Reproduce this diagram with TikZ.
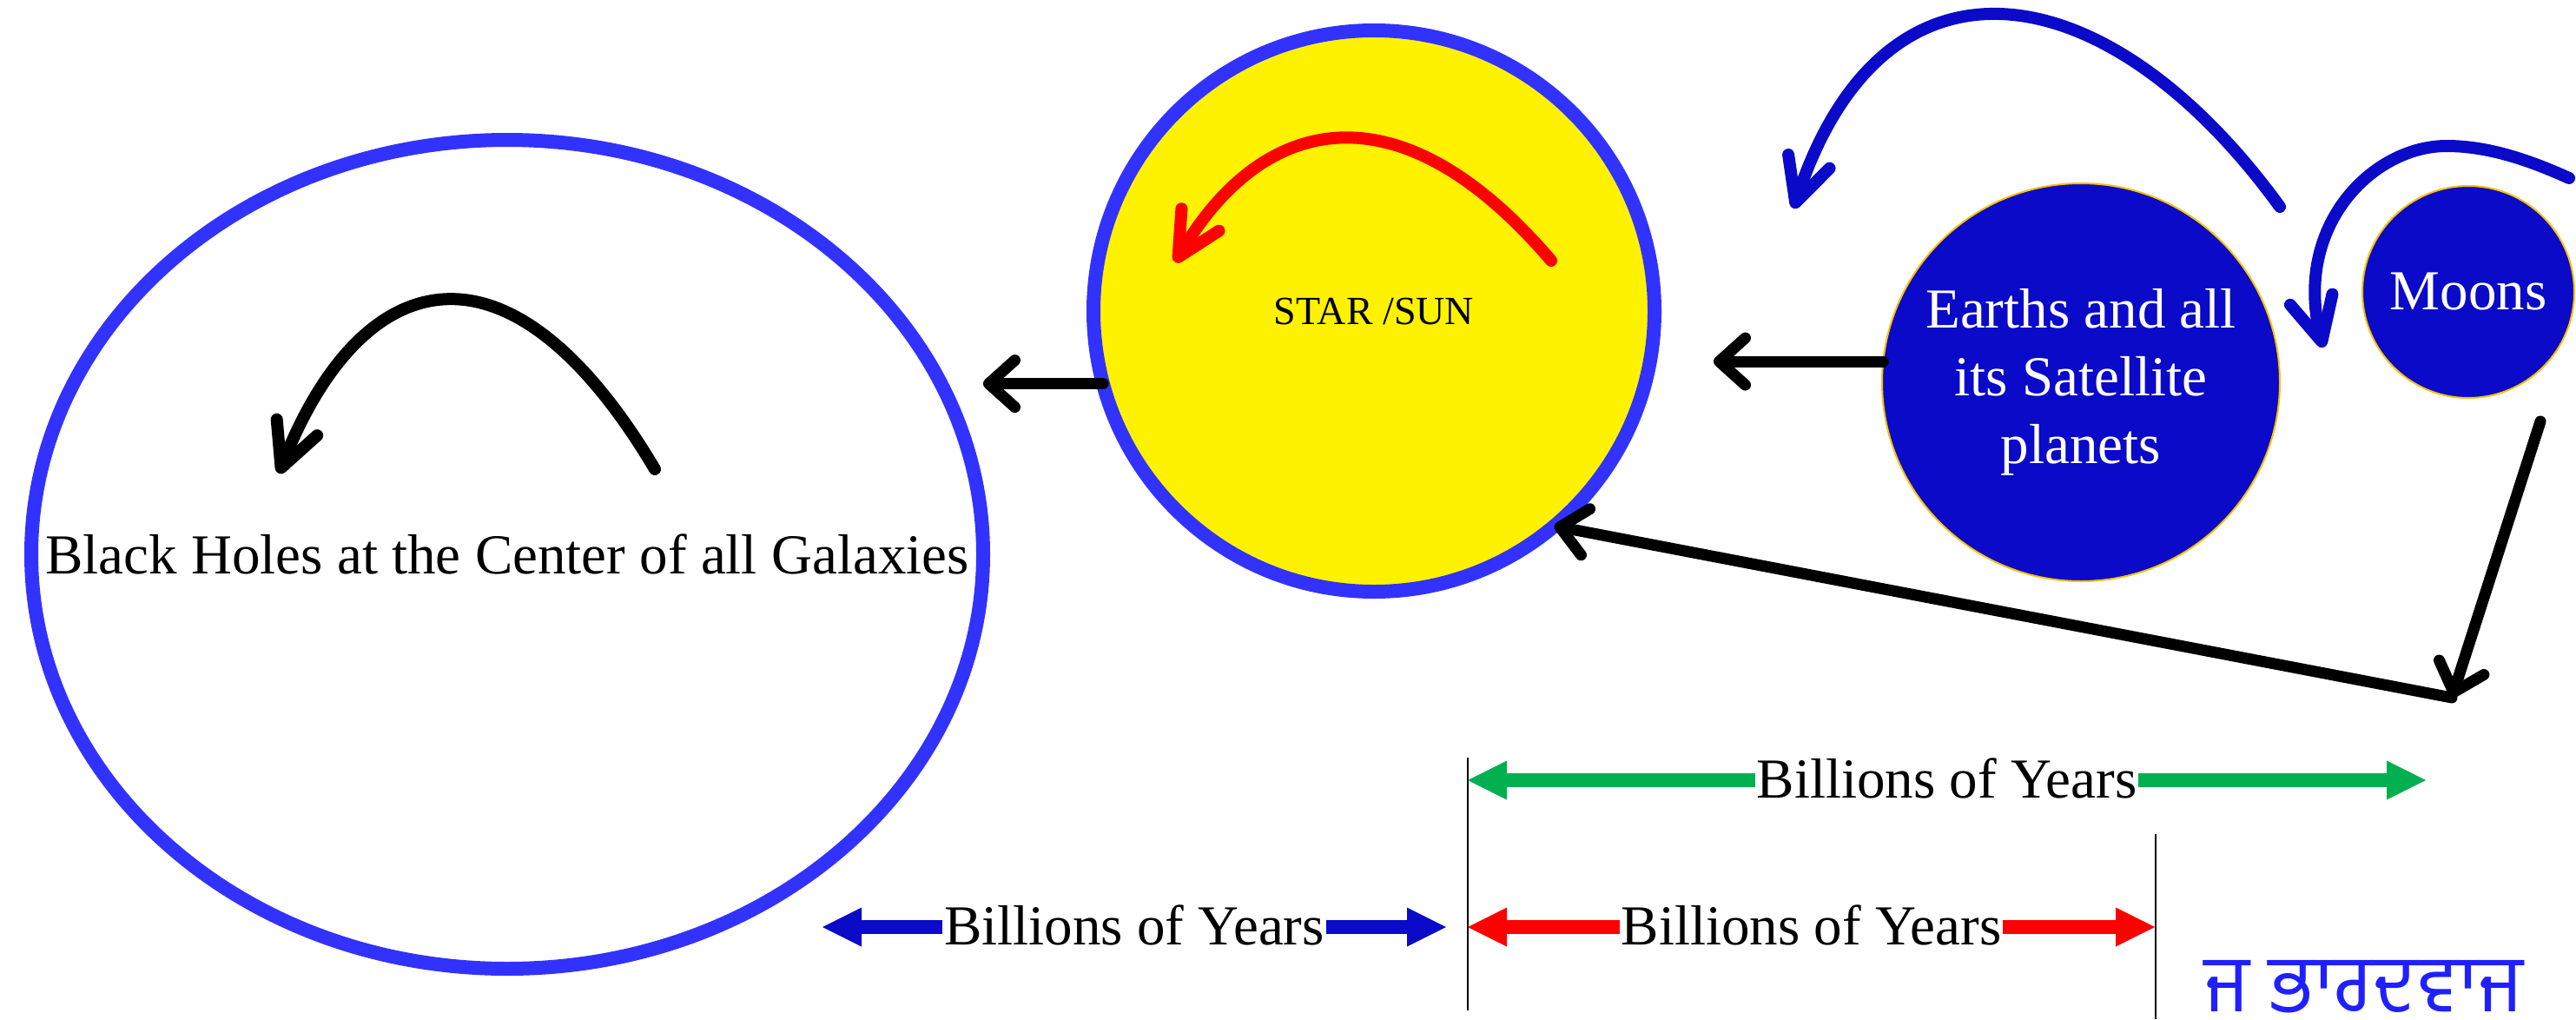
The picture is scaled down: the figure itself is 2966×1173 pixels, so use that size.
\documentclass[tikz,border=0pt]{standalone}
\usepackage{fontspec}
\setmainfont{Liberation Serif}
\newfontfamily\gurmukhifont[Script=Gurmukhi]{Hind Jalandhar}
\usepackage{xcolor}
\usepackage{tikz}
\usetikzlibrary{shapes,arrows.meta}
\definecolor{ringblue}{HTML}{3232FF}
\definecolor{deepblue}{HTML}{0A0AC8}
\definecolor{rimgold}{HTML}{FFC000}
\definecolor{spangreen}{HTML}{00B050}
\definecolor{signblue}{HTML}{2020FF}
\tikzstyle{orb} = [circle, outer sep=0pt, inner sep=0pt, align=center]
\tikzstyle{blackarrow} = [line width=13pt, line cap=round, -{Straight Barb[length=30pt,width=54pt,round]}]
\tikzstyle{spinarrow} = [line width=14pt, line cap=round, -{Straight Barb[length=50pt,width=50pt,round]}]
\tikzstyle{spanarrow} = [line width=16pt, {Triangle[length=45pt,width=45pt,line width=0pt]}-{Triangle[length=45pt,width=45pt,line width=0pt]}]
\tikzstyle{spanlabel} = [midway, anchor=base, yshift=-20pt, fill=white, text=black, inner sep=2pt]

\begin{document}
\begin{tikzpicture}[x=1pt, y=-1pt, font=\fontsize{65}{78}\selectfont]
\useasboundingbox (0,0) rectangle (2966,1173);

% bodies
\node[ellipse, draw=ringblue, line width=16pt, outer sep=0pt, minimum width=1096pt, minimum height=954pt] (galaxy) at (584,638) {};
\node (bhlabel) at (galaxy.center) {Black Holes at the Center of all Galaxies};
\node[orb, draw=ringblue, fill=yellow, line width=16pt, minimum size=646pt, font=\fontsize{46}{55}\selectfont] (sun) at (1582,358) {STAR /SUN};
\node[orb, draw=rimgold, fill=deepblue, text=white, line width=2pt, minimum size=458pt] (earth) at (2396,440) {\raisebox{-6pt}{\begin{tabular}{@{}c@{}}Earths and all\\its Satellite\\planets\end{tabular}}};
\node[orb, draw=rimgold, fill=deepblue, text=white, line width=2pt, minimum size=244pt] (moons) at (2842,336) {Moons};

% spin arrows
\draw[spinarrow] (754,540) .. controls (587,259) and (417,302) .. (321,545);
\draw[spinarrow, red] (1786,300) .. controls (1611,95) and (1454,131) .. (1353,302);
\draw[spinarrow, deepblue] (2625,238) .. controls (2429,-32) and (2170,-79) .. (2065,240);
\draw[spinarrow, deepblue] (2958,205) .. controls (2916,186) and (2867,168) .. (2817,168)
  .. controls (2732,168) and (2640,260) .. (2675,400);

% flow between bodies
\coordinate (drop) at (2925,485);
\coordinate (turn) at (2823,803);
\draw[blackarrow] (sun.195) -- (sun.195 -| galaxy.east);
\draw[blackarrow, shorten >=68pt] (earth.174) -- (earth.174 -| sun.east);
\draw[blackarrow] (drop) -- (turn);
\draw[blackarrow] (turn) -- (sun.-50);

% time spans
\coordinate (tickL) at (1690,872);
\coordinate (tickR) at (2482,960);
\draw[line width=2pt] (tickL) -- (1690,1163);
\draw[line width=2pt] (tickR) -- (2482,1173);
\draw[spanarrow, spangreen] (1690,898) -- (2793,898) node[spanlabel] {Billions of Years};
\draw[spanarrow, red] (1690,1067) -- (2481,1067) node[spanlabel] {Billions of Years};
\draw[spanarrow, deepblue] (947,1067) -- (1665,1067) node[spanlabel] {Billions of Years};

\node[text=signblue, anchor=base, text depth=0pt, inner sep=0pt, font=\gurmukhifont\fontsize{92}{100}\selectfont] (sign) at (2722,1164) {ਜ ਭਾਰਦਵਾਜ};
\end{tikzpicture}
\end{document}
